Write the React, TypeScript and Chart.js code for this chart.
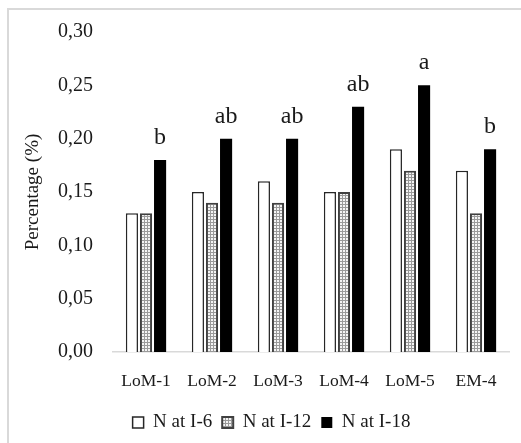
import React, { useEffect, useRef } from "react";
import { Chart, registerables } from "chart.js";

Chart.register(...registerables);

const categories = ["LoM-1", "LoM-2", "LoM-3", "LoM-4", "LoM-5", "EM-4"];
const seriesI6 = [0.13, 0.15, 0.16, 0.15, 0.19, 0.17];
const seriesI12 = [0.13, 0.14, 0.14, 0.15, 0.17, 0.13];
const seriesI18 = [0.18, 0.2, 0.2, 0.23, 0.25, 0.19];
const seriesNames = ["N at I-6", "N at I-12", "N at I-18"];
const significance = ["b", "ab", "ab", "ab", "a", "b"];
const yTicks = [0, 0.05, 0.1, 0.15, 0.2, 0.25, 0.3];

const FONT = "'Liberation Serif', 'Times New Roman', serif";

function makePattern(): CanvasPattern | string {
  const c = document.createElement("canvas");
  c.width = 3;
  c.height = 3;
  const ctx = c.getContext("2d");
  if (!ctx) return "#bbbbbb";
  ctx.fillStyle = "#9a9a9a";
  ctx.fillRect(0, 0, 3, 3);
  ctx.fillStyle = "#f4f4f4";
  ctx.fillRect(1, 1, 2, 2);
  const p = ctx.createPattern(c, "repeat");
  return p || "#bbbbbb";
}

const framePlugin = {
  id: "frame",
  beforeDraw(chart: any) {
    const ctx = chart.ctx;
    ctx.save();
    ctx.strokeStyle = "#d9d9d9";
    ctx.lineWidth = 2;
    ctx.beginPath();
    ctx.moveTo(8, 443);
    ctx.lineTo(8, 9);
    ctx.lineTo(521, 9);
    ctx.stroke();
    ctx.restore();
  },
};

const lettersPlugin = {
  id: "letters",
  afterDatasetsDraw(chart: any) {
    const meta = chart.getDatasetMeta(2);
    const ctx = chart.ctx;
    ctx.save();
    ctx.font = `24px ${FONT}`;
    ctx.fillStyle = "#1a1a1a";
    ctx.textAlign = "center";
    ctx.textBaseline = "alphabetic";
    meta.data.forEach((el: any, i: number) => {
      ctx.fillText(significance[i], el.x, el.y - 16);
    });
    ctx.restore();
  },
};

export default function App() {
  const ref = useRef<HTMLCanvasElement | null>(null);

  useEffect(() => {
    if (!ref.current) return;
    const pattern = makePattern();
    const chart = new Chart(ref.current, {
      type: "bar",
      data: {
        labels: categories,
        datasets: [
          {
            label: seriesNames[0],
            data: seriesI6,
            backgroundColor: "#ffffff",
            borderColor: "#262626",
            borderWidth: 1.5,
            categoryPercentage: 0.64,
            barPercentage: 0.86,
          },
          {
            label: seriesNames[1],
            data: seriesI12,
            backgroundColor: pattern as any,
            borderColor: "#404040",
            borderWidth: 2,
            categoryPercentage: 0.64,
            barPercentage: 0.86,
          },
          {
            label: seriesNames[2],
            data: seriesI18,
            backgroundColor: "#000000",
            borderColor: "#000000",
            borderWidth: 0,
            categoryPercentage: 0.64,
            barPercentage: 0.86,
          },
        ],
      },
      options: {
        animation: false,
        responsive: false,
        maintainAspectRatio: false,
        layout: { padding: { left: 22, top: 32, right: 0, bottom: 1 } },
        plugins: {
          tooltip: { enabled: false },
          legend: {
            position: "bottom",
            labels: {
              boxWidth: 11,
              boxHeight: 11,
              padding: 10,
              color: "#1a1a1a",
              font: { family: FONT, size: 19 },
            },
          },
        },
        scales: {
          x: {
            grid: { display: false },
            border: { display: true, color: "#d9d9d9", width: 1.5 },
            ticks: {
              color: "#1a1a1a",
              font: { family: FONT, size: 17.5 },
              padding: 11,
              maxRotation: 0,
            },
            afterFit(axis: any) {
              axis.height = 51;
            },
          },
          y: {
            min: 0,
            max: 0.3,
            grid: { display: false, drawTicks: false },
            border: { display: false },
            afterBuildTicks(axis: any) {
              axis.ticks = yTicks.map((v) => ({ value: v }));
            },
            ticks: {
              color: "#1a1a1a",
              font: { family: FONT, size: 20 },
              padding: 20,
              callback: (v: any) => Number(v).toFixed(2).replace(".", ","),
            },
            title: {
              display: true,
              text: "Percentage (%)",
              color: "#1a1a1a",
              font: { family: FONT, size: 19 },
              padding: { top: 0, bottom: 0 },
            },
            afterFit(axis: any) {
              axis.width = 91;
            },
          },
          yR: {
            position: "right",
            display: true,
            grid: { display: false, drawTicks: false },
            border: { display: false },
            ticks: { display: false },
            afterFit(axis: any) {
              axis.width = 12;
            },
          },
        },
      } as any,
      plugins: [framePlugin, lettersPlugin],
    });
    return () => chart.destroy();
  }, []);

  return (
    <div style={{ position: "fixed", left: 0, top: 0, width: 521, height: 443, background: "#fff" }}>
      <canvas ref={ref} width={521} height={443} style={{ display: "block", width: 521, height: 443 }} />
    </div>
  );
}
